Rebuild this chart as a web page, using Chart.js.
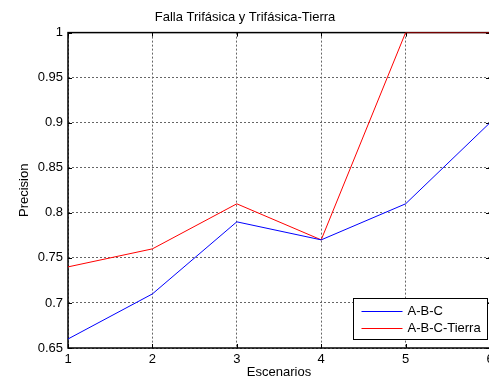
<!DOCTYPE html>
<html>
<head>
<meta charset="utf-8">
<script src="https://cdn.jsdelivr.net/npm/chart.js@4/dist/chart.umd.min.js"></script>
<style>
  html, body { margin: 0; padding: 0; background: #fff; overflow: hidden; }
  #wrap { width: 520px; height: 380px; position: relative; }
</style>
</head>
<body>
<div id="wrap"><canvas id="c" width="520" height="380"></canvas></div>
<script>
// Escenarios evaluados y precisión obtenida por tipo de falla
const escenarios = [1, 2, 3, 4, 5, 6];
const precisionABC = [0.66, 0.71, 0.79, 0.77, 0.81, 0.90];
const precisionABCTierra = [0.74, 0.76, 0.81, 0.77, 1.00, 1.00];
const yTicks = [0.65, 0.7, 0.75, 0.8, 0.85, 0.9, 0.95, 1];
const seriesNames = ['A-B-C', 'A-B-C-Tierra'];
const seriesColors = ['#0000ff', '#ff0000'];

const FONT = 'Liberation Sans, Arial, Helvetica, sans-serif';

// Marco de los ejes y marcas hacia dentro (bajo las curvas)
const axesBox = {
  id: 'axesBox',
  beforeDatasetsDraw(chart) {
    const { ctx, chartArea: a, scales: { x, y } } = chart;
    ctx.save();
    ctx.setLineDash([]);
    ctx.strokeStyle = '#000';
    ctx.lineWidth = 1;
    ctx.beginPath();
    escenarios.forEach(v => {
      const px = Math.round(x.getPixelForValue(v)) + 0.5;
      ctx.moveTo(px, a.bottom); ctx.lineTo(px, a.bottom - 4);
      ctx.moveTo(px, a.top); ctx.lineTo(px, a.top + 4);
    });
    yTicks.forEach(v => {
      const py = Math.round(y.getPixelForValue(v)) + 0.5;
      ctx.moveTo(a.left, py); ctx.lineTo(a.left + 4, py);
      ctx.moveTo(a.right, py); ctx.lineTo(a.right - 4, py);
    });
    ctx.stroke();
    ctx.lineWidth = 1.5;
    ctx.strokeRect(a.left, a.top, a.right - a.left, a.bottom - a.top);
    ctx.restore();
  },
  // leyenda en la esquina inferior derecha
  afterDatasetsDraw(chart) {
    const { ctx, chartArea: a } = chart;
    ctx.save();
    ctx.setLineDash([]);
    const w = 134, h = 41;
    const lx = 353.5, ly = Math.round(a.bottom - 9 - h) + 0.5;
    ctx.fillStyle = '#fff';
    ctx.fillRect(lx, ly, w, h);
    ctx.strokeStyle = '#000';
    ctx.lineWidth = 1;
    ctx.strokeRect(lx, ly, w, h);
    ctx.font = '13px ' + FONT;
    ctx.textBaseline = 'middle';
    seriesNames.forEach((name, i) => {
      const yy = ly + 13 + i * 17;
      ctx.beginPath();
      ctx.strokeStyle = seriesColors[i];
      ctx.lineWidth = 1;
      ctx.moveTo(lx + 8, yy);
      ctx.lineTo(lx + 49, yy);
      ctx.stroke();
      ctx.fillStyle = '#000';
      ctx.fillText(name, lx + 54, yy);
    });
    ctx.restore();
  }
};

new Chart(document.getElementById('c'), {
  type: 'line',
  data: {
    labels: escenarios,
    datasets: [
      { label: seriesNames[0], data: escenarios.map((e, i) => ({ x: e, y: precisionABC[i] })),
        borderColor: seriesColors[0], borderWidth: 1, pointRadius: 0, tension: 0, fill: false },
      { label: seriesNames[1], data: escenarios.map((e, i) => ({ x: e, y: precisionABCTierra[i] })),
        borderColor: seriesColors[1], borderWidth: 1, pointRadius: 0, tension: 0, fill: false }
    ]
  },
  options: {
    responsive: false,
    animation: false,
    events: [],
    layout: { padding: { top: 0, right: 30, bottom: 0, left: 0 } },
    plugins: {
      legend: { display: false },
      tooltip: { enabled: false },
      title: {
        display: true,
        text: 'Falla Trifásica y Trifásica-Tierra',
        color: '#000',
        font: { family: FONT, size: 13, weight: 'normal' },
        padding: { top: 10, bottom: 7 }
      }
    },
    scales: {
      x: {
        type: 'linear',
        min: 1, max: 6,
        ticks: { stepSize: 1, color: '#000', font: { family: FONT, size: 13 }, padding: 4 },
        grid: { color: '#666', lineWidth: 1, drawTicks: false },
        border: { display: false, dash: [2, 2] },
        title: { display: true, text: 'Escenarios', color: '#000', font: { family: FONT, size: 13 }, padding: { top: 6, bottom: 0 } },
        afterFit(s) { s.height = 32; }
      },
      y: {
        min: 0.65, max: 1,
        afterBuildTicks(s) { s.ticks = yTicks.map(v => ({ value: v })); },
        ticks: { color: '#000', font: { family: FONT, size: 13 }, padding: 5,
                 callback: v => String(Math.round(v * 100) / 100) },
        grid: { color: '#666', lineWidth: 1, drawTicks: false },
        border: { display: false, dash: [2, 2] },
        title: { display: true, text: 'Precision', color: '#000', font: { family: FONT, size: 13 }, padding: { top: 17, bottom: 4 } },
        afterFit(s) { s.width = 68; }
      }
    }
  },
  plugins: [axesBox]
});
</script>
</body>
</html>
